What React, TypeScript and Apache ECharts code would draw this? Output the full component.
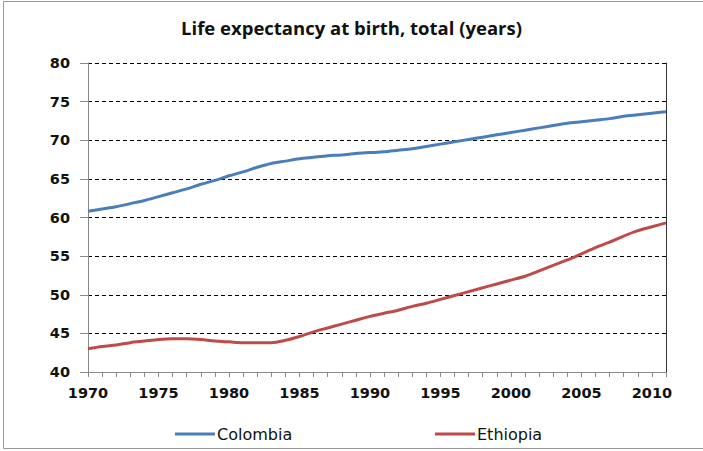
import React, { useEffect, useRef } from "react";
import * as echarts from "echarts";

const years: string[] = [
  "1970","1971","1972","1973","1974","1975","1976","1977","1978","1979",
  "1980","1981","1982","1983","1984","1985","1986","1987","1988","1989",
  "1990","1991","1992","1993","1994","1995","1996","1997","1998","1999",
  "2000","2001","2002","2003","2004","2005","2006","2007","2008","2009",
  "2010","2011",
];

const colombia: number[] = [
  60.8, 61.1, 61.4, 61.8, 62.2, 62.7, 63.2, 63.7, 64.3, 64.8,
  65.4, 65.9, 66.5, 67.0, 67.3, 67.6, 67.8, 68.0, 68.1, 68.3,
  68.4, 68.5, 68.7, 68.9, 69.2, 69.5, 69.8, 70.1, 70.4, 70.7,
  71.0, 71.3, 71.6, 71.9, 72.2, 72.4, 72.6, 72.8, 73.1, 73.3,
  73.5, 73.7,
];

const ethiopia: number[] = [
  43.0, 43.3, 43.5, 43.8, 44.0, 44.2, 44.3, 44.3, 44.2, 44.0,
  43.9, 43.8, 43.8, 43.8, 44.1, 44.6, 45.2, 45.7, 46.2, 46.7,
  47.2, 47.6, 48.0, 48.5, 48.9, 49.4, 49.9, 50.4, 50.9, 51.4,
  51.9, 52.4, 53.1, 53.8, 54.5, 55.3, 56.1, 56.8, 57.6, 58.3,
  58.8, 59.3,
];

const titleText = "Life expectancy at birth, total (years)";
const TITLE_FONT = "'Open Sans', 'Noto Sans', sans-serif";
const AXIS_FONT = "'DejaVu Sans', sans-serif";

export default function App() {
  const ref = useRef<HTMLDivElement>(null);
  useEffect(() => {
    if (!ref.current) return;
    const chart = echarts.init(ref.current, undefined, { renderer: "svg" });
    chart.setOption({
      animation: false,
      backgroundColor: "#ffffff",
      title: {
        text: titleText,
        left: "center",
        top: 13,
        textStyle: { fontFamily: TITLE_FONT, fontSize: 18.5, fontWeight: "bold", color: "#111" },
      },
      graphic: [
        {
          type: "rect",
          shape: { x: 3.5, y: 1.5, width: 705, height: 447 },
          style: { fill: "none", stroke: "#9a9a9a", lineWidth: 1 },
          silent: true,
        },
      ],
      legend: [
        {
          data: ["Colombia"],
          left: 170,
          top: 421,
          itemWidth: 40,
          itemHeight: 3,
          icon: "rect",
          textStyle: { fontFamily: AXIS_FONT, fontSize: 16, color: "#111", padding: [0, 0, 0, -3] },
        },
        {
          data: ["Ethiopia"],
          left: 430,
          top: 421,
          itemWidth: 40,
          itemHeight: 3,
          icon: "rect",
          textStyle: { fontFamily: AXIS_FONT, fontSize: 16, color: "#111", padding: [0, 0, 0, -3] },
        },
      ],
      grid: { left: 88, right: 37, top: 63, bottom: 79 },
      xAxis: {
        type: "category",
        data: years,
        boundaryGap: false,
        axisLine: { lineStyle: { color: "#888", width: 1 } },
        axisTick: { show: true, interval: 0, length: 5, inside: false, lineStyle: { color: "#888" } },
        axisLabel: {
          interval: 4,
          margin: 13,
          fontFamily: AXIS_FONT,
          fontSize: 14.5,
          fontWeight: "bold",
          color: "#111",
        },
        splitLine: { show: false },
      },
      yAxis: [
        {
          type: "value",
          min: 40,
          max: 80,
          interval: 5,
          axisLine: { show: true, lineStyle: { color: "#888", width: 1 } },
          axisTick: { show: true, length: 8, lineStyle: { color: "#888" } },
          axisLabel: {
            margin: 18,
            fontFamily: AXIS_FONT,
            fontSize: 14.5,
            fontWeight: "bold",
            color: "#111",
          },
          splitLine: { show: true, lineStyle: { color: "#000", type: [4, 3], width: 1 } },
        },
        {
          type: "value",
          min: 40,
          max: 80,
          interval: 5,
          position: "right",
          axisLine: { show: true, lineStyle: { color: "#333", width: 1 } },
          axisTick: { show: false },
          axisLabel: { show: false },
          splitLine: { show: false },
        },
      ],
      series: [
        {
          name: "Colombia",
          type: "line",
          data: colombia,
          smooth: 0.3,
          showSymbol: false,
          symbol: "none",
          lineStyle: { color: "#4A7EBB", width: 3 },
          itemStyle: { color: "#4A7EBB" },
        },
        {
          name: "Ethiopia",
          type: "line",
          data: ethiopia,
          smooth: 0.3,
          showSymbol: false,
          symbol: "none",
          lineStyle: { color: "#BE4B48", width: 3 },
          itemStyle: { color: "#BE4B48" },
        },
      ],
    });
    return () => chart.dispose();
  }, []);
  return (
    <div
      ref={ref}
      style={{ position: "fixed", left: 0, top: 0, width: 703, height: 451 }}
    />
  );
}
